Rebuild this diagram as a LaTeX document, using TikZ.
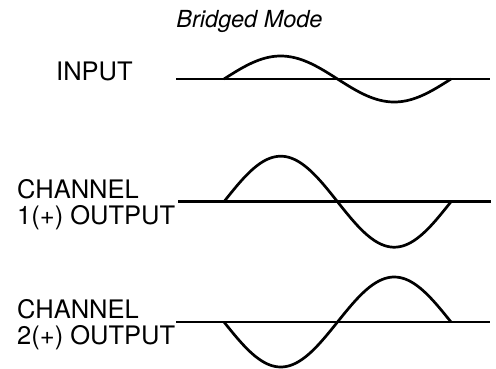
\documentclass[tikz,border=0pt]{standalone}
\usepackage{fontspec}
\setmainfont{TeX Gyre Heros}
\begin{document}
\begin{tikzpicture}[x=1pt,y=-1pt,
  lbl/.style={anchor=base west,inner sep=0pt,font=\fontsize{25.5}{26}\selectfont},
  ttl/.style={anchor=base,inner sep=0pt,font=\fontsize{23.5}{24}\selectfont\itshape},
  wave/.style={line width=2.7pt},
  axisline/.style={line width=2.7pt}]
\useasboundingbox (0,0) rectangle (496,368);
\node[ttl] (title) at (249.5,27.3) {Bridged Mode};
% input
\node[lbl] (inp) at (56,80.5) {INPUT};
\coordinate (a1) at (176,79);
\coordinate (b1) at (490,79);
\draw[axisline] (a1) -- (b1);
\draw[wave] plot[domain=224:451,samples=90,smooth] (\x,{79-23*sin(1.5859*(\x-224))});
% channel 1
\node[lbl] (c1a) at (17,198.3) {CHANNEL};
\node[lbl] (c1b) at (17,224.3) {1(+) OUTPUT};
\coordinate (a2) at (178,201.7);
\coordinate (b2) at (491,201.7);
\draw[axisline] (a2) -- (b2);
\draw[wave] plot[domain=224:451,samples=90,smooth] (\x,{201.7-45.5*sin(1.5859*(\x-224))});
% channel 2
\node[lbl] (c2a) at (17,318.3) {CHANNEL};
\node[lbl] (c2b) at (17,344.3) {2(+) OUTPUT};
\coordinate (a3) at (176,322);
\coordinate (b3) at (490,322);
\draw[axisline] (a3) -- (b3);
\draw[wave] plot[domain=224:451,samples=90,smooth] (\x,{322+45*sin(1.5859*(\x-224))});
\end{tikzpicture}
\end{document}
